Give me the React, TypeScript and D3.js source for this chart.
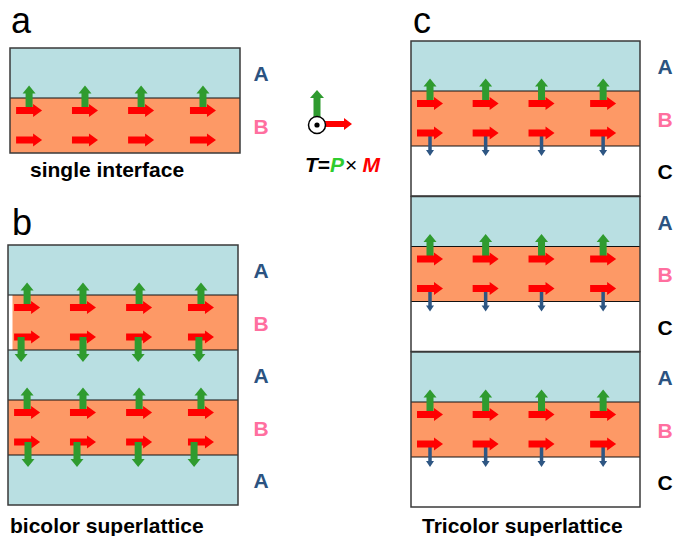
import React from 'react'
import * as d3 from 'd3'

const width = 677
const height = 536

// layer stacks (top to bottom) and thickness of each material
const singleStack = ['A', 'B']
const bicolorStack = ['A', 'B', 'A', 'B', 'A']
const tricolorStack = ['A', 'B', 'C']
const tricolorRepeats = 3
const materials = ['A', 'B', 'C']
const thickness = [50, 55, 50]

// arrow columns across a layer (0-100 of its width)
const arrowColumns = [8.3, 32.6, 57, 83.9]
// hand drawn offsets of the downward arrows in the bicolor panel
const bicolorDownShift = [[-2.6, 0, -0.4, -0.9], [0.4, -2.6, -0.4, -3]]

const fillOf = { A: '#b9dfe2', B: '#fd9966', C: '#ffffff' }
const labelColor = { A: '#2b5381', B: '#ff6f9f', C: '#000000' }
const RED = '#ff0000'
const GREEN = '#2f9b2f'
const BLUE = '#2e5683'
const FONT = 'Liberation Sans, Arial, sans-serif'

const Arrow = ({ x1, y1, x2, y2, shaft, head, headLen, fill }) => {
  const len = Math.hypot(x2 - x1, y2 - y1)
  const ux = (x2 - x1) / len, uy = (y2 - y1) / len
  const px = -uy, py = ux
  const bx = x2 - ux * headLen, by = y2 - uy * headLen
  const pts = [
    [x1 + px * shaft / 2, y1 + py * shaft / 2],
    [bx + px * shaft / 2, by + py * shaft / 2],
    [bx + px * head / 2, by + py * head / 2],
    [x2, y2],
    [bx - px * head / 2, by - py * head / 2],
    [bx - px * shaft / 2, by - py * shaft / 2],
    [x1 - px * shaft / 2, y1 - py * shaft / 2],
  ]
  return <polygon points={pts.map(p => p.join(',')).join(' ')} fill={fill} />
}

const Stack = ({ stack, x0, y0, w, labelX, downShift, gap }) => {
  const sizes = stack.map(m => thickness[materials.indexOf(m)])
  const edges = [0, ...d3.cumsum(sizes)]
  const y = d3.scaleLinear().domain([0, edges[edges.length - 1]]).range([y0, y0 + edges[edges.length - 1]])
  const x = d3.scaleLinear().domain([0, 100]).range([x0, x0 + w])

  const bIdx = stack.map((m, i) => (m === 'B' ? i : -1)).filter(i => i >= 0)
  const ups = [], reds = [], blues = [], greensDown = []
  bIdx.forEach((li, k) => {
    const top = y(edges[li]), bot = y(edges[li + 1])
    const below = stack[li + 1]
    arrowColumns.forEach((c, j) => {
      const cx = x(c)
      ups.push(<Arrow key={`u${li}${j}`} x1={cx} y1={top + 13} x2={cx} y2={top - 12.5} shaft={7} head={13} headLen={8} fill={GREEN} />)
      reds.push(<Arrow key={`r1${li}${j}`} x1={cx - 13} y1={top + 12.5} x2={cx + 13} y2={top + 12.5} shaft={7} head={13} headLen={9} fill={RED} />)
      reds.push(<Arrow key={`r2${li}${j}`} x1={cx - 13} y1={bot - 13} x2={cx + 13} y2={bot - 13} shaft={7} head={13} headLen={9} fill={RED} />)
      if (below === 'A') {
        const dx = downShift ? x(c + downShift[k][j]) : cx
        greensDown.push(<Arrow key={`d${li}${j}`} x1={dx} y1={bot - 13} x2={dx} y2={bot + 12} shaft={7} head={13} headLen={8} fill={GREEN} />)
      } else if (below === 'C') {
        blues.push(<Arrow key={`b${li}${j}`} x1={cx} y1={bot - 13} x2={cx} y2={bot + 10} shaft={3.5} head={8} headLen={6} fill={BLUE} />)
      }
    })
  })

  return (
    <g>
      {stack.map((m, i) => (
        <rect key={i} x={x(0)} y={y(edges[i])} width={w} height={y(edges[i + 1]) - y(edges[i])} fill={fillOf[m]} />
      ))}
      {gap && <rect x={x(0)} y={y(edges[gap])} width={4.5} height={y(edges[gap + 1]) - y(edges[gap])} fill="#fff" />}
      {edges.slice(1, -1).map((e, i) => (
        <line key={i} x1={x(0)} x2={x(100)} y1={y(e)} y2={y(e)} stroke="#111" strokeWidth={1.2} />
      ))}
      <rect x={x(0)} y={y0} width={w} height={y(edges[edges.length - 1]) - y0} fill="none" stroke="#3a3a3a" strokeWidth={1.5} />
      {ups}
      {blues}
      {reds}
      {greensDown}
      {stack.map((m, i) => (
        <text key={i} x={labelX} y={(y(edges[i]) + y(edges[i + 1])) / 2 + 0.5} textAnchor="middle" dominantBaseline="central"
          fontFamily={FONT} fontWeight="bold" fontSize={21} fill={labelColor[m]}>{m}</text>
      ))}
    </g>
  )
}

const App = () => {
  const tricolorTops = d3.range(tricolorRepeats).map(i => 41 + i * 155.5)
  return (
    <svg width={width} height={height} style={{ position: 'absolute', left: 0, top: 0, background: '#fff' }}>
      <rect width={width} height={height} fill="#fff" />
      <text x={11} y={33} fontFamily={FONT} fontSize={36}>a</text>
      <text x={12} y={235} fontFamily={FONT} fontSize={36}>b</text>
      <text x={413} y={33} fontFamily={FONT} fontSize={36}>c</text>

      <Stack stack={singleStack} x0={10} y0={48} w={230} labelX={261} />
      <Stack stack={bicolorStack} x0={8} y0={245} w={230} labelX={261} downShift={bicolorDownShift} gap={1} />
      {tricolorTops.map((t, i) => (
        <Stack key={i} stack={tricolorStack} x0={411} y0={t} w={229} labelX={665} />
      ))}

      <text x={30} y={177} fontFamily={FONT} fontWeight="bold" fontSize={21}>single interface</text>
      <text x={10} y={533} fontFamily={FONT} fontWeight="bold" fontSize={21}>bicolor superlattice</text>
      <text x={422} y={533} fontFamily={FONT} fontWeight="bold" fontSize={21}>Tricolor superlattice</text>

      {/* torque legend */}
      <Arrow x1={317} y1={118} x2={317} y2={90} shaft={7} head={14} headLen={8} fill={GREEN} />
      <Arrow x1={325} y1={124} x2={352} y2={124} shaft={6} head={12} headLen={8} fill={RED} />
      <circle cx={317} cy={125} r={8.5} fill="#fff" stroke="#000" strokeWidth={1.5} />
      <circle cx={317} cy={125} r={2.6} fill="#000" />
      <text x={305} y={172} fontFamily={FONT} fontWeight="bold" fontSize={21}>
        <tspan fontStyle="italic">T</tspan>
        <tspan>=</tspan>
        <tspan fontStyle="italic" fill="#2ecc2e">P</tspan>
        <tspan fontWeight="normal" dx={1}>×</tspan>
        <tspan fontStyle="italic" fill={RED} dx={5}>M</tspan>
      </text>
    </svg>
  )
}

export default App
